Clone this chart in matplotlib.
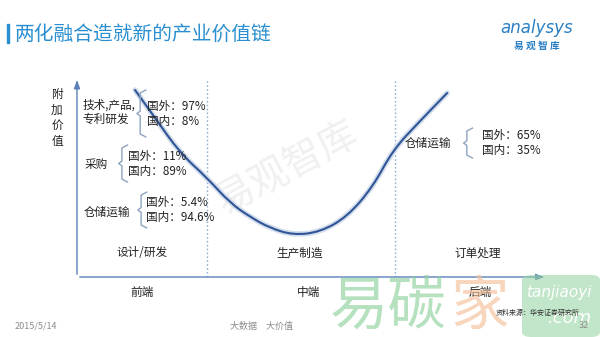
import matplotlib
matplotlib.use("Agg")
import matplotlib.pyplot as plt
from matplotlib.patches import FancyBboxPatch, PathPatch
from matplotlib.path import Path

plt.rcParams['font.family'] = ['Noto Sans CJK SC', 'DejaVu Sans']

# ---- data -------------------------------------------------------------
# value-added "smile curve": position along the chain vs. added value
curve_x = [12.4, 16.7, 22.0, 27.8, 32.7, 37.0, 41.2, 46.2, 51.9, 57.7, 63.2, 67.5, 73.3, 79.1]
curve_y = [94.9, 80.7, 63.0, 50.3, 37.6, 30.5, 24.9, 21.3, 22.8, 30.5, 45.7, 64.5, 79.2, 93.4]

stage_bounds = [27.8, 67.9]
stages = ['设计/研发', '生产制造', '订单处理']
stage_x = [13.9, 47.6, 85.7]
segments = ['前端', '中端', '后端']
segment_x = [13.9, 49.4, 86.1]

links = ['技术,产品,\n专利研发', '采购', '仓储运输', '仓储运输']
foreign_share = ['97%', '11%', '5.4%', '65%']
domestic_share = ['8%', '89%', '94.6%', '35%']

# label layout: (name x, name y, brace x, brace top, brace bottom, value x)
label_layout = [
    (1.1, 83.8, 13.5, 94.9, 71.1, 15.0),
    (1.7, 56.9, 9.6, 67.0, 48.2, 10.9),
    (1.5, 33.0, 13.7, 43.1, 24.9, 14.7),
    (70.1, 68.0, 83.3, 75.6, 60.4, 86.5),
]

# ---- figure -----------------------------------------------------------
W, H = 600, 337
fig = plt.figure(figsize=(W / 100, H / 100), dpi=100)
fig.patch.set_facecolor('white')

def fx(px):
    return px / W

def fy(py):
    return 1 - py / H

ax = fig.add_axes([fx(77), fy(277), 468 / W, 197 / H])
ax.set_xlim(0, 100)
ax.set_ylim(0, 100)
ax.axis('off')

axis_col = '#5b82b8'
ax.annotate('', xy=(0, 101.5), xytext=(0, 0),
            arrowprops=dict(arrowstyle='-|>,head_width=0.18,head_length=0.5',
                            color=axis_col, lw=1.0), annotation_clip=False)
ax.annotate('', xy=(100.5, 0), xytext=(0, 0),
            arrowprops=dict(arrowstyle='-|>,head_width=0.18,head_length=0.5',
                            color=axis_col, lw=1.0), annotation_clip=False)

for b in stage_bounds:
    ax.plot([b, b], [0, 100], color='#8fb0d8', lw=1.0, ls=(0, (1.2, 1.6)), zorder=1)

# watermark
ax.text(45, 55, '易观智库', fontsize=28, color='#e6e6e6', alpha=0.6,
        rotation=28, ha='center', va='center', zorder=0, weight='light')

# smooth curve: quadratic segments using the points as control points
pts = list(zip(curve_x, curve_y))
verts = [pts[0]]
codes = [Path.MOVETO]
mids = [((a[0] + b[0]) / 2, (a[1] + b[1]) / 2) for a, b in zip(pts[:-1], pts[1:])]
verts.append(mids[0])
codes.append(Path.LINETO)
for i in range(1, len(pts) - 1):
    verts += [pts[i], mids[i]]
    codes += [Path.CURVE3, Path.CURVE3]
verts.append(pts[-1])
codes.append(Path.LINETO)
smile = Path(verts, codes)
ax.add_patch(PathPatch(smile, facecolor='none', edgecolor='#d3ddec', lw=4.0, zorder=2,
                       capstyle='round'))
ax.add_patch(PathPatch(smile, facecolor='none', edgecolor='#2f5597', lw=1.5, zorder=3,
                       capstyle='round'))

txt_col = '#222222'
brace_col = '#8ea3bf'
for name, fo, do, (nx, ny, bx, bt, bb, vx) in zip(links, foreign_share, domestic_share, label_layout):
    ax.text(nx, ny, name, fontsize=8.4, color=txt_col, ha='left', va='center',
            linespacing=1.15, zorder=4)
    mid = (bt + bb) / 2
    arm = 1.2
    ax.plot([bx + arm, bx, bx, bx - 0.7, bx, bx, bx + arm],
            [bt, bt - 1.5, mid + 1.2, mid, mid - 1.2, bb + 1.5, bb],
            color=brace_col, lw=1.0, zorder=4)
    yv = mid + 3.8
    ax.text(vx, yv, '国外：' + fo, fontsize=8.4, color=txt_col, ha='left', va='center', zorder=4)
    ax.text(vx, yv - 7.7, '国内：' + do, fontsize=8.4, color=txt_col, ha='left', va='center', zorder=4)

for s, x in zip(stages, stage_x):
    ax.text(x, 12.2, s, fontsize=8.4, color=txt_col, ha='center', va='center', zorder=4)

# brand watermark at the bottom right
fig.text(fx(330), fy(338), '易碳', fontsize=42, color='#8fd19c', alpha=0.65,
         ha='left', va='bottom', zorder=0)
fig.text(fx(450), fy(338), '家', fontsize=42, color='#f4c09a', alpha=0.65,
         ha='left', va='bottom', zorder=0)
box = FancyBboxPatch((fx(522), fy(337)), fx(78), 62 / H,
                     boxstyle='round,pad=0,rounding_size=0.015',
                     transform=fig.transFigure, facecolor='#9ad6a6', alpha=0.6,
                     edgecolor='none', zorder=0)
fig.patches.append(box)
fig.text(fx(526), fy(292), 'tanjiaoyi', fontsize=11, color='white', style='italic',
         ha='left', va='center', family=['DejaVu Sans'], zorder=1)
fig.text(fx(548), fy(318), '.com', fontsize=13, color='white', style='italic',
         ha='left', va='center', family=['DejaVu Sans'], zorder=1)

for s, x in zip(segments, segment_x):
    ax.text(x, -8.1, s, fontsize=8.4, color=txt_col, ha='center', va='center',
            clip_on=False, zorder=5)

# y axis label, one character per line
fig.text(fx(57), fy(118), '附\n加\n价\n值', fontsize=8.4, color=txt_col,
         ha='center', va='center', linespacing=1.25)

# title
fig.patches.append(plt.Rectangle((fx(7), fy(43)), 2.2 / W, 19 / H,
                                 transform=fig.transFigure, color='#2a8fd0'))
fig.text(fx(15), fy(34), '两化融合造就新的产业价值链', fontsize=14.2, color='#2a8fd0',
         ha='left', va='center')

# logo
fig.text(fx(537), fy(28), 'analysys', fontsize=12, color='#2a7fc4', style='italic',
         ha='center', va='center', family=['DejaVu Sans'])
fig.text(fx(537), fy(46), '易 观 智 库', fontsize=7, color='#2a7fc4', weight='bold',
         ha='center', va='center')

# footer
fig.text(fx(15), fy(326), '2015/5/14', fontsize=6.5, color='#8c8c8c', ha='left', va='center')
fig.text(fx(261), fy(326), '大数据　大价值', fontsize=6.5, color='#8c8c8c', ha='center', va='center')
fig.text(fx(589), fy(326), '32', fontsize=6.5, color='#8c8c8c', ha='right', va='center', zorder=2)
fig.text(fx(580), fy(313), '资料来源：华安证券研究所', fontsize=5, color='#333333',
         ha='right', va='center', zorder=2)

fig.savefig('out.png', dpi=100, facecolor='white')
